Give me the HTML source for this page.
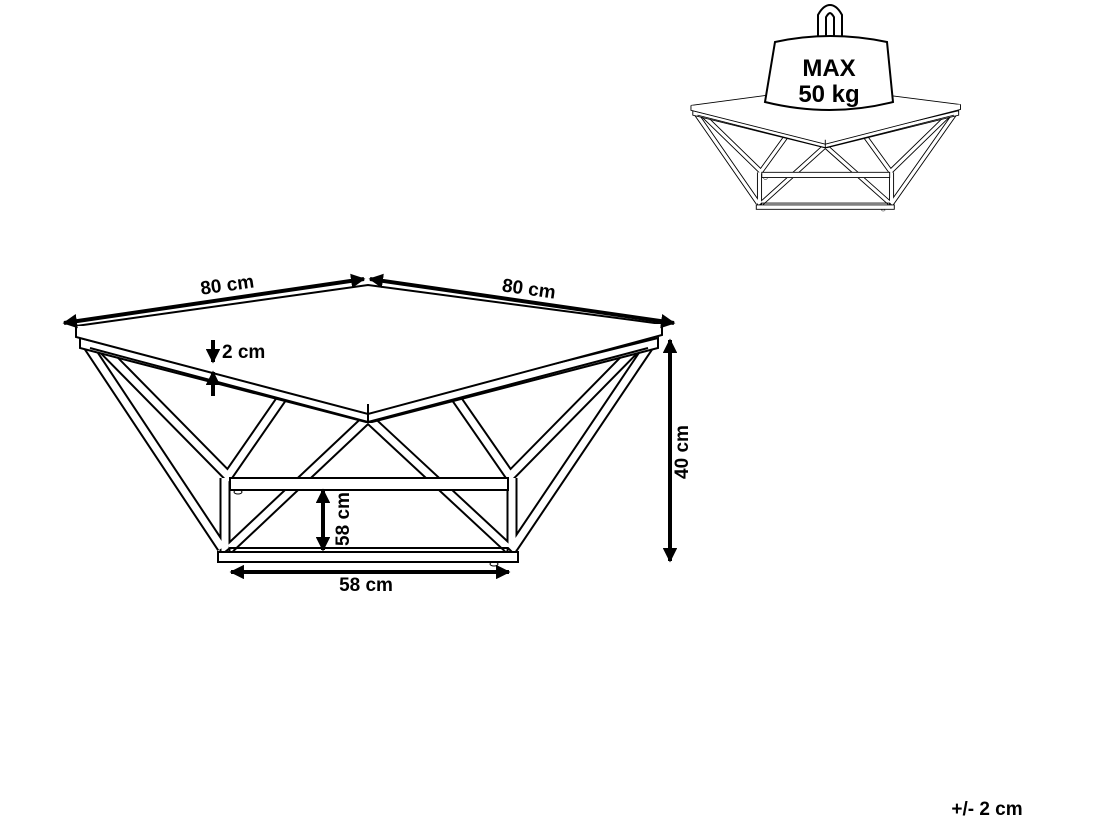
<!DOCTYPE html>
<html><head><style>
html,body{margin:0;padding:0;background:#fff;}
svg{display:block;}
text{font-family:"Liberation Sans",sans-serif;font-weight:bold;fill:#000;}
</style></head><body>
<svg width="1100" height="824" viewBox="0 0 1100 824" xmlns="http://www.w3.org/2000/svg">
<defs>
<marker id="ah" viewBox="0 0 10 10" refX="9" refY="5" markerWidth="3.6" markerHeight="3.6" orient="auto-start-reverse">
<path d="M0,0 L10,5 L0,10 z" fill="#000"/></marker>
<g id="table">
  <g fill="none" stroke-linejoin="miter" stroke-linecap="butt">
    <g stroke="#000" stroke-width="11">
      <path d="M88,346 L222,548 M102,348 L228,476 L282,398 M368,418 L230,548 M368,418 L508,548 M649,346 L513,548 M636,348 L510,476 L456,398"/>
      <path d="M225,478 L225,552 M512,478 L512,552"/>
    </g>
    <g stroke="#fff" stroke-width="7">
      <path d="M88,346 L222,548 M102,348 L228,476 L282,398 M368,418 L230,548 M368,418 L508,548 M649,346 L513,548 M636,348 L510,476 L456,398"/>
      <path d="M225,478 L225,552 M512,478 L512,552"/>
    </g>
  </g>
  <path d="M230,478 L508,478 L508,490 L230,490 Z" fill="#fff" stroke="#000" stroke-width="2"/>
  <path d="M218,552 L518,552 L518,562 L218,562 Z" fill="#fff" stroke="#000" stroke-width="2"/>
  <path d="M225,552 L230,548 L508,548 L512,552" fill="none" stroke="#000" stroke-width="2"/>
  <path d="M80,338 L368,410 L658,338 L658,348 L372,422 L366,422 L80,348 Z" fill="#fff" stroke="#000" stroke-width="2"/>
  <path d="M368,410 L368,422" stroke="#000" stroke-width="2"/>
  <path d="M90,348 L368,422 L648,348" fill="none" stroke="#000" stroke-width="2"/>
  <path d="M76,326 L368,285 L662,324 L368,404 Z" fill="#fff" stroke="#000" stroke-width="2"/>
  <path d="M76,326 L76,337 L368,414 L662,335 L662,324" fill="#fff" stroke="#000" stroke-width="2"/>
  <path d="M368,404 L368,414" stroke="#000" stroke-width="2"/>
  <ellipse cx="238" cy="492" rx="4" ry="2" fill="none" stroke="#000"/>
  <ellipse cx="494" cy="564" rx="4" ry="2" fill="none" stroke="#000"/>
</g>
</defs>

<use href="#table"/>

<g transform="translate(656,-38) scale(0.46,0.44)"><use href="#table"/></g>

<!-- weight -->
<path d="M822,40 L822,16 Q830,2 838,16 L838,40" fill="none" stroke="#000" stroke-width="10" stroke-linecap="round"/>
<path d="M822,40 L822,16 Q830,2 838,16 L838,40" fill="none" stroke="#fff" stroke-width="6" stroke-linecap="round"/>
<path d="M775,42 Q830,30 887,42 L893,102 Q830,118 765,102 Z" fill="#fff" stroke="#000" stroke-width="2"/>
<text x="829" y="76" font-size="24" text-anchor="middle">MAX</text>
<text x="829" y="102" font-size="24" text-anchor="middle">50 kg</text>

<g stroke="#000" stroke-width="4" fill="none">
  <line x1="64" y1="323" x2="364" y2="279" marker-start="url(#ah)" marker-end="url(#ah)"/>
  <line x1="370" y1="279" x2="674" y2="323" marker-start="url(#ah)" marker-end="url(#ah)"/>
  <line x1="670" y1="340" x2="670" y2="561" marker-start="url(#ah)" marker-end="url(#ah)"/>
  <line x1="213" y1="340" x2="213" y2="362" marker-end="url(#ah)"/>
  <line x1="213" y1="396" x2="213" y2="372" marker-end="url(#ah)"/>
  <line x1="323" y1="490" x2="323" y2="550" marker-start="url(#ah)" marker-end="url(#ah)"/>
  <line x1="231" y1="572" x2="509" y2="572" marker-start="url(#ah)" marker-end="url(#ah)"/>
</g>
<text font-size="19" transform="translate(228,291) rotate(-8)" text-anchor="middle">80 cm</text>
<text font-size="19" transform="translate(528,295) rotate(8)" text-anchor="middle">80 cm</text>
<text font-size="19" transform="translate(688,452) rotate(-90)" text-anchor="middle">40 cm</text>
<text font-size="19" x="222" y="358">2 cm</text>
<text font-size="19" transform="translate(349,519) rotate(-90)" text-anchor="middle">58 cm</text>
<text font-size="19" x="366" y="591" text-anchor="middle">58 cm</text>
<text font-size="19" x="987" y="815" text-anchor="middle">+/- 2 cm</text>
</svg>
</body></html>
